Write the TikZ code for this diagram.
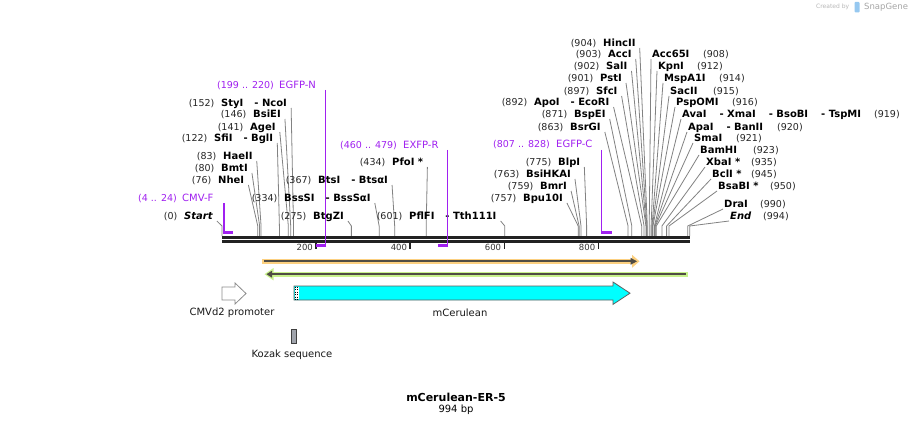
\documentclass[tikz,border=0pt]{standalone}
\usepackage{fontspec}
\setmainfont{DejaVu Sans}
\usetikzlibrary{calc}
\definecolor{prim}{RGB}{160,32,240}
\definecolor{conncol}{RGB}{130,130,130}
\definecolor{bbcol}{RGB}{34,34,34}
\definecolor{orhalo}{RGB}{252,208,128}
\definecolor{grhalo}{RGB}{200,242,140}
\definecolor{orfline}{RGB}{80,76,68}
\definecolor{featline}{RGB}{96,96,96}
\definecolor{kozakfill}{RGB}{160,164,172}
\definecolor{sglogo}{RGB}{150,200,240}
\definecolor{cyanfill}{RGB}{0,255,255}
\newcommand\sep{\hspace{11pt}}
\newcommand\wsep{\hspace{13pt}}
\tikzset{
  num/.style={inner sep=0pt, font=\fontsize{9.5}{11}\selectfont, text=black!85},
  enz/.style={inner sep=0pt, font=\fontsize{10}{12}\selectfont\bfseries, anchor=base west},
  conn/.style={draw=conncol, line width=0.8pt},
  primnum/.style={inner sep=0pt, text=prim, anchor=base west, font=\fontsize{9.5}{11}\selectfont},
  primname/.style={inner sep=0pt, text=prim, anchor=base west, font=\fontsize{10}{12}\selectfont},
  primv/.style={draw=prim, line width=1.3pt},
  primh/.style={draw=prim, line width=2.3pt},
  backbone/.style={draw=bbcol, line width=2.6pt},
  ticklbl/.style={inner sep=0pt, anchor=base east, font=\fontsize{8.5}{10}\selectfont, text=black!80},
  tickmark/.style={draw=bbcol, line width=1.5pt},
  featlbl/.style={inner sep=0pt, font=\fontsize{10}{12}\selectfont, text=black!90},
}
% left-type site: name x, y centre, number, name, bp
\newcommand\lsite[6]{%
  \node[enz] (e#1) at (#2,#3+3.5) {#5};
  \node[num, anchor=base east] (n#1) at (#2-6.5,#3+3.5) {(#4)};
  \coordinate (s#1) at ({222+0.4705*#6},236);
  \draw[conn] ($(e#1.base east)+(4,1.5)$) -- ([yshift=10pt]s#1) -- (s#1);
}
% right-type site: name x, number x, y centre, number, name, bp
\newcommand\rsite[7]{%
  \node[enz] (e#1) at (#2,#4+3.5) {#6};
  \node[num, anchor=base west] (n#1) at (#3,#4+3.5) {(#5)};
  \coordinate (s#1) at ({222+0.4705*#7},236);
  \draw[conn] ($(e#1.base west)+(-1,1.5)$) -- ([yshift=10pt]s#1) -- (s#1);
}
\begin{document}
\begin{tikzpicture}[x=1pt,y=-1pt]
\useasboundingbox (0,0) rectangle (913,425);
\fill[white] (0,0) rectangle (913,425);

% ---- restriction sites (left side labels)
\lsite{start}{184}{216}{0}{\itshape Start}{0}
\lsite{nhe}{218}{180}{76}{NheI}{76}
\lsite{bmt}{221}{168}{80}{BmtI}{80}
\lsite{hae}{223}{156}{83}{HaeII}{83}
\lsite{sfi}{214}{138}{122}{SfiI\sep- BglI}{122}
\lsite{age}{250}{127}{141}{AgeI}{141}
\lsite{bsie}{253}{114}{146}{BsiEI}{146}
\lsite{sty}{221}{103}{152}{StyI\sep- NcoI}{152}
\lsite{btgz}{313}{216}{275}{BtgZI}{275}
\lsite{bsss}{284}{198}{334}{BssSI\sep- BssSαI}{334}
\lsite{bts}{318}{180}{367}{BtsI\sep- BtsαI}{367}
\lsite{pfo}{392}{162}{434}{PfoI *}{434}
\lsite{pflf}{409}{216}{601}{PflFI\sep- Tth111I}{601}
\lsite{bpu}{523}{198}{757}{Bpu10I}{757}
\lsite{bmr}{540}{186}{759}{BmrI}{759}
\lsite{bsih}{526}{174}{763}{BsiHKAI}{763}
\lsite{blp}{558}{162}{775}{BlpI}{775}
\lsite{bsrg}{570}{127}{863}{BsrGI}{863}
\lsite{bspe}{574}{114}{871}{BspEI}{871}
\lsite{apo}{534}{102}{892}{ApoI\sep- EcoRI}{892}
\lsite{sfc}{596}{91}{897}{SfcI}{897}
\lsite{pst}{600}{78}{901}{PstI}{901}
\lsite{sal}{606}{66}{902}{SalI}{902}
\lsite{acc}{608}{54}{903}{AccI}{903}
\lsite{hinc}{603}{43}{904}{HincII}{904}

% ---- restriction sites (right side labels)
\rsite{acc65}{652}{703}{54}{908}{Acc65I}{908}
\rsite{kpn}{658}{697}{66}{912}{KpnI}{912}
\rsite{msp}{664}{719}{78}{914}{MspA1I}{914}
\rsite{sac}{670}{713}{91}{915}{SacII}{915}
\rsite{psp}{676}{732}{102}{916}{PspOMI}{916}
\rsite{ava}{682}{874}{114}{919}{AvaI\wsep- XmaI\wsep- BsoBI\wsep- TspMI}{919}
\rsite{apa}{688}{777}{127}{920}{ApaI\wsep- BanII}{920}
\rsite{sma}{694}{736}{138}{921}{SmaI}{921}
\rsite{bam}{700}{753}{150}{923}{BamHI}{923}
\rsite{xba}{706}{751}{162}{935}{XbaI *}{935}
\rsite{bcl}{712}{751}{174}{945}{BclI *}{945}
\rsite{bsab}{718}{770}{186}{950}{BsaBI *}{950}
\rsite{dra}{724}{760}{204}{990}{DraI}{990}
\rsite{endd}{730}{763}{216}{994}{\itshape End}{994}

% ---- backbone
\coordinate (bbL) at (222,237.4);
\coordinate (bbR) at (690,237.4);
\draw[backbone] (bbL) -- (bbR);
\draw[backbone] ([yshift=-4.2pt]bbL) -- ([yshift=-4.2pt]bbR);

% ---- scale ticks
\foreach \v/\xx in {200/316.1,400/410.2,600/504.3,800/598.4}{
  \draw[tickmark] (\xx,243) -- (\xx,249);
  \node[ticklbl] (t\v) at (\xx-3,250) {\v};
}

% ---- primers
\node[primnum] (pnA) at (138,198+3.5) {(4 .. 24)};
\node[primname] (plA) at (182,198+3.5) {CMV-F};
\coordinate (pA1) at (223.9,232.5);
\coordinate (pA2) at (233.3,232.5);
\draw[primv] (pA1 |- 0,203) -- (pA1);
\draw[primh] ([xshift=-0.65pt]pA1) -- (pA2);

\node[primnum] (pnB) at (217,85+3.5) {(199 .. 220)};
\node[primname] (plB) at (279,85+3.5) {EGFP-N};
\coordinate (pB1) at (315.6,245.5);
\coordinate (pB2) at (325.5,245.5);
\draw[primv] (pB2 |- 0,90) -- (pB2);
\draw[primh] ([xshift=0.65pt]pB2) -- (pB1);

\node[primnum] (pnC) at (340,145+3.5) {(460 .. 479)};
\node[primname] (plC) at (403,145+3.5) {EXFP-R};
\coordinate (pC1) at (438.4,245.5);
\coordinate (pC2) at (447.4,245.5);
\draw[primv] (pC2 |- 0,150) -- (pC2);
\draw[primh] ([xshift=0.65pt]pC2) -- (pC1);

\node[primnum] (pnD) at (493,144+3.5) {(807 .. 828)};
\node[primname] (plD) at (556,144+3.5) {EGFP-C};
\coordinate (pD1) at (601.7,232.5);
\coordinate (pD2) at (611.6,232.5);
\draw[primv] (pD1 |- 0,150) -- (pD1);
\draw[primh] ([xshift=-0.65pt]pD1) -- (pD2);

% ---- ORF arrows
\draw[orhalo, line width=5pt] (262,261.3) -- (632.5,261.3);
\fill[orhalo] (632,254.8) -- (639.5,261.3) -- (632,267.8) -- cycle;
\draw[orfline, line width=1.9pt] (264,261.3) -- (631,261.3);
\fill[orfline] (630.5,257.8) -- (637,261.3) -- (630.5,264.8) -- cycle;

\draw[grhalo, line width=5.2pt] (273,274.2) -- (688,274.2);
\fill[grhalo] (273.5,268) -- (264.5,274.2) -- (273.5,280.4) -- cycle;
\draw[orfline, line width=1.9pt] (271,274.2) -- (686,274.2);
\fill[orfline] (272,270.7) -- (266.5,274.2) -- (272,277.7) -- cycle;

% ---- features
\draw[fill=white, draw=black!45, line width=0.8pt]
  (222,287) -- (235,287) -- (235,283) -- (246,293.5) -- (235,304) -- (235,300) -- (222,300) -- cycle;
\node[featlbl] (fCMV) at (232,313) {CMVd2 promoter};

\draw[fill=cyanfill, draw=featline, line width=0.8pt]
  (294,286) -- (613,286) -- (613,282) -- (630,293.2) -- (613,304.4) -- (613,300) -- (294,300) -- cycle;
\fill[white] (294.6,286.6) rectangle (298.6,299.4);
\draw[black, line width=0.5pt, dotted] (295.6,286.6) -- (295.6,299.4);
\draw[black, line width=0.5pt, dotted] (297.6,286.6) -- (297.6,299.4);
\node[featlbl] (fCer) at (460,313) {mCerulean};

\draw[fill=kozakfill, draw=black!75, line width=0.7pt] (291.2,329) rectangle (296.8,343);
\node[featlbl] (fKoz) at (292,355) {Kozak sequence};

% ---- title
\node[inner sep=0pt, font=\fontsize{11}{13}\selectfont\bfseries] (title) at (456,397.5) {mCerulean-ER-5};
\node[inner sep=0pt, font=\fontsize{10}{12}\selectfont] (size) at (456,409.5) {994 bp};

% ---- watermark
\node[inner sep=0pt, anchor=west, font=\fontsize{6}{7}\selectfont, text=black!28] (cby) at (816,7) {Created by};
\fill[sglogo, rounded corners=1pt] (854.5,1.8) rectangle (859.5,12.5);
\node[inner sep=0pt, anchor=west, font=\fontsize{8.5}{10}\selectfont, text=black!35] (sg) at (864,7) {SnapGene};
\end{tikzpicture}
\end{document}
